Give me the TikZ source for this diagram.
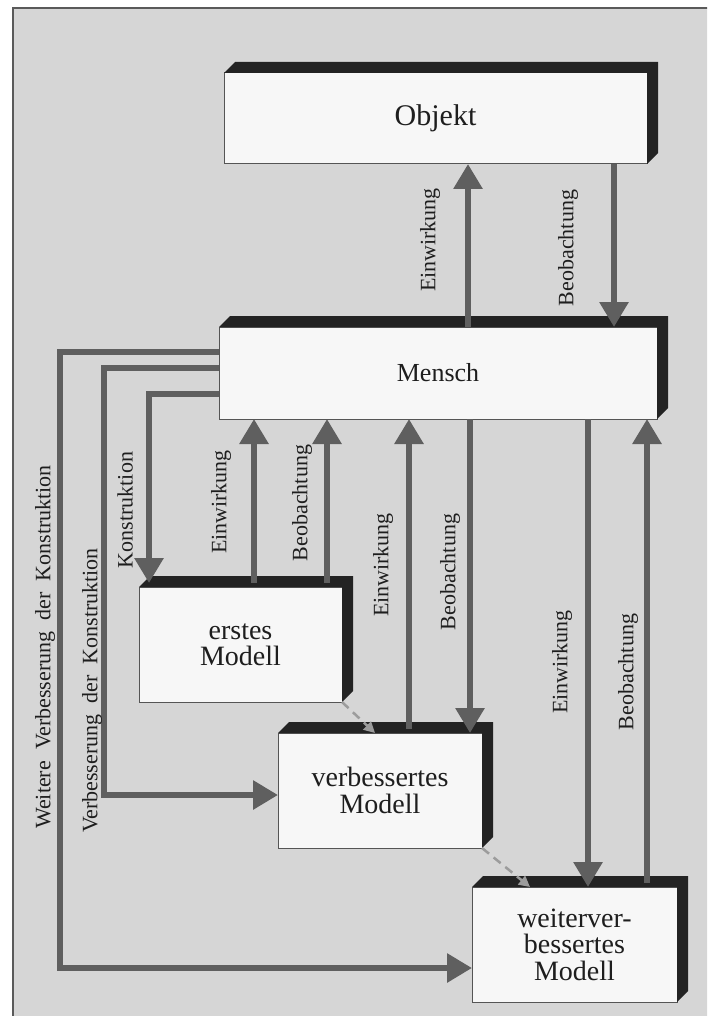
\documentclass[tikz,border=0pt]{standalone}
\usepackage{fontspec}
\setmainfont{Liberation Serif}
\usetikzlibrary{arrows.meta}

\definecolor{panel}{HTML}{D6D6D6}
\definecolor{frameline}{HTML}{5A5A5A}
\definecolor{flow}{HTML}{5F5F5F}
\definecolor{face}{HTML}{232323}
\definecolor{front}{HTML}{F7F7F7}
\definecolor{edge}{HTML}{555555}
\definecolor{ink}{HTML}{1E1E1E}
\definecolor{dashgray}{HTML}{9C9C9C}

\tikzset{
  block/.style={draw=edge, line width=1pt, fill=front, inner sep=0pt, outer sep=0pt,
    text=ink, align=center, font=\fontsize{28}{26.5}\selectfont},
  flowarrow/.style={draw=flow, line width=6pt, -{Triangle[width=28pt,length=25pt]}},
  tag/.style={rotate=90, inner sep=0pt, text=ink, font=\fontsize{22}{22}\selectfont},
  hint/.style={draw=dashgray, line width=2.5pt, dash pattern=on 9pt off 6pt,
    -{Triangle[width=11pt,length=11pt]}},
}

% dark top and right faces that give a block its depth
\newcommand\blockdepth[1]{%
  \fill[face] (#1.north west) -- ++(11,-11) -- ([shift={(11,-11)}]#1.north east)
    -- ([shift={(11,-11)}]#1.south east) -- (#1.south east) -- (#1.north east) -- cycle;}
% wider gap between words of the long side labels
\newcommand\wgap{\hspace{11pt}}

\begin{document}
\begin{tikzpicture}[x=1pt, y=-1pt]
\useasboundingbox (0,0) rectangle (707,1016);
\clip (0,0) rectangle (707,1016);
\fill[white] (0,0) rectangle (707,1016);

% panel
\fill[panel] (13,8) rectangle (730,1040);
\draw[frameline, line width=2.7pt] (13,8) rectangle (730,1040);

% blocks
\node[block, minimum width=423pt, minimum height=91pt, font=\fontsize{30}{30}\selectfont] (objekt) at (435.5,118.5) {Objekt};
\blockdepth{objekt}
\node[block, minimum width=438pt, minimum height=92pt, font=\fontsize{26}{26}\selectfont] (mensch) at (438,373) {Mensch};
\blockdepth{mensch}
\node[block, minimum width=203pt, minimum height=115pt] (erstes) at (240.5,644.5) {erstes\\Modell};
\blockdepth{erstes}
\node[block, minimum width=204pt, minimum height=115pt] (verb) at (380,790.5) {verbessertes\\Modell};
\blockdepth{verb}
\node[block, minimum width=205pt, minimum height=115pt] (weiter) at (574.5,944.5) {weiterver-\\bessertes\\Modell};
\blockdepth{weiter}

% Mensch <-> Objekt
\draw[flowarrow] ([xshift=30pt]mensch.north) -- ([xshift=32.5pt]objekt.south);
\draw[flowarrow] ([xshift=178.5pt]objekt.south) -- ([xshift=176pt]mensch.north);
\node[tag] (eo) at (430,240) {Einwirkung};
\node[tag] (bo) at (568,248) {Beobachtung};

% Mensch <-> erstes Modell
\draw[flowarrow] ([xshift=13.5pt,yshift=4pt]erstes.north) -- ([xshift=-184pt]mensch.south);
\draw[flowarrow] ([xshift=86.5pt,yshift=4pt]erstes.north) -- ([xshift=-111pt]mensch.south);
\node[tag] (e1) at (221,502) {Einwirkung};
\node[tag] (b1) at (302,503) {Beobachtung};

% Mensch <-> verbessertes Modell
\draw[flowarrow] ([xshift=29pt,yshift=4pt]verb.north) -- ([xshift=-29pt]mensch.south);
\draw[flowarrow] ([xshift=32pt]mensch.south) -- ([xshift=90pt]verb.north);
\node[tag] (e2) at (383,565) {Einwirkung};
\node[tag] (b2) at (450,572) {Beobachtung};

% Mensch <-> weiterverbessertes Modell
\draw[flowarrow] ([xshift=150pt]mensch.south) -- ([xshift=13.5pt]weiter.north);
\draw[flowarrow] ([xshift=72.5pt,yshift=4pt]weiter.north) -- ([xshift=209pt]mensch.south);
\node[tag] (e3) at (562,662) {Einwirkung};
\node[tag] (b3) at (628,672) {Beobachtung};

% construction loops
\draw[flowarrow] ([yshift=-21pt]mensch.west) -| ([xshift=-91.5pt,yshift=4pt]erstes.north);
\coordinate (k2) at (104,795);
\draw[flowarrow] ([yshift=5pt]mensch.west) -| (k2) -- ([yshift=-4.5pt]verb.west);
\coordinate (k3) at (60,968);
\draw[flowarrow] ([yshift=21pt]mensch.west) -| (k3) -- ([yshift=-23.5pt]weiter.west);
\node[tag] (lk) at (125,510) {Konstruktion};
\node[tag, anchor=east] (lv) at (92,548) {Verbesserung\wgap der\wgap Konstruktion};
\node[tag, anchor=east] (lw) at (45,465) {Weitere\wgap Verbesserung\wgap der\wgap Konstruktion};

% model succession
\draw[hint] (erstes.south east) -- ([xshift=-5pt]verb.north);
\draw[hint] (verb.south east) -- ([xshift=-44.5pt]weiter.north);
\end{tikzpicture}
\end{document}
